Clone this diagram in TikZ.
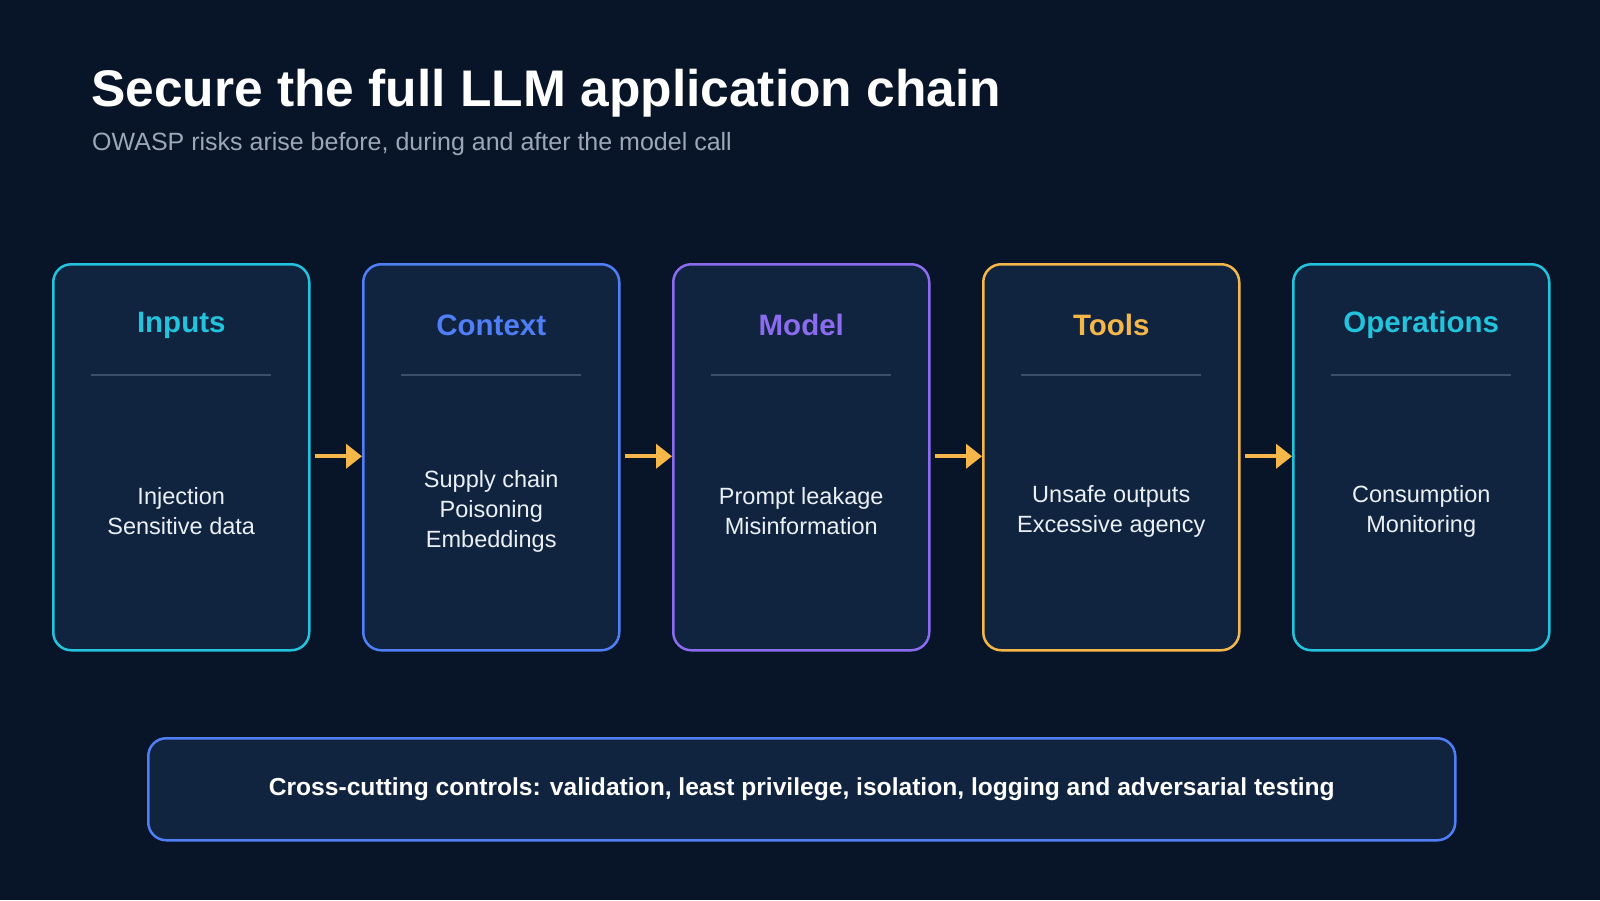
\documentclass[tikz,border=0pt]{standalone}
\usepackage{fontspec}
\setmainfont{Liberation Sans}
\usetikzlibrary{arrows.meta}
\definecolor{bg}{HTML}{081428}
\definecolor{boxfill}{HTML}{10243F}
\definecolor{cy}{HTML}{22C3DD}
\definecolor{bl}{HTML}{4F7EF7}
\definecolor{pu}{HTML}{8B6CF0}
\definecolor{orr}{HTML}{F5B74A}
\definecolor{divc}{HTML}{3A5068}
\definecolor{txt}{HTML}{EAF0F6}
\definecolor{sub}{HTML}{9AA8B8}
\begin{document}
\begin{tikzpicture}[x=1pt,y=-1pt,
  stage/.style={draw=#1,line width=2.5pt,fill=boxfill,rounded corners=18pt,minimum width=256pt,minimum height=386pt,anchor=north west},
  head/.style={text=#1,font=\bfseries\fontsize{29.5}{34}\selectfont},
  body/.style={text=txt,align=center,font=\fontsize{23.5}{30}\selectfont},
  flow/.style={draw=orr,line width=4pt,-{Triangle[length=16pt,width=24pt]}}]
\fill[bg] (0,0) rectangle (1600,900);
\useasboundingbox (0,0) rectangle (1600,900);
\node[anchor=base west,text=white,font=\bfseries\fontsize{51.5}{60}\selectfont,inner sep=0] (title) at (91,106) {Secure the full LLM application chain};
\node[anchor=base west,text=sub,font=\fontsize{25}{30}\selectfont,inner sep=0] (subt) at (92,150) {OWASP risks arise before, during and after the model call};
\foreach \i/\x/\c/\h/\b in {1/52/cy/Inputs/{Injection\\Sensitive data},
  2/362/bl/Context/{Supply chain\\Poisoning\\Embeddings},
  3/672/pu/Model/{Prompt leakage\\Misinformation},
  4/982/orr/Tools/{Unsafe outputs\\Excessive agency},
  5/1292/cy/Operations/{Consumption\\Monitoring}}{
  \node[stage=\c] (s\i) at (\x,263) {};
  \node[head=\c] (h\i) at ([yshift=-62pt]s\i.north) {\h};
  \draw[divc,line width=2pt] ([xshift=-90pt,yshift=-112pt]s\i.north) coordinate (dl\i) -- ([xshift=90pt,yshift=-112pt]s\i.north) coordinate (dr\i);
  \node[body] (b\i) at ([yshift=-54pt]s\i.center) {\b};
}
\foreach \a/\b in {1/2,2/3,3/4,4/5}{
  \draw[flow] ([xshift=4pt,yshift=1pt]s\a.east) -- ([yshift=1pt]s\b.west);
}
\node[draw=bl,line width=2.5pt,fill=boxfill,rounded corners=18pt,minimum width=1307pt,minimum height=102pt,anchor=north west,text=white,font=\bfseries\fontsize{24.6}{28}\selectfont] (bar) at (147,737) {Cross-cutting controls: validation, least privilege, isolation, logging and adversarial testing};
\end{tikzpicture}
\end{document}
